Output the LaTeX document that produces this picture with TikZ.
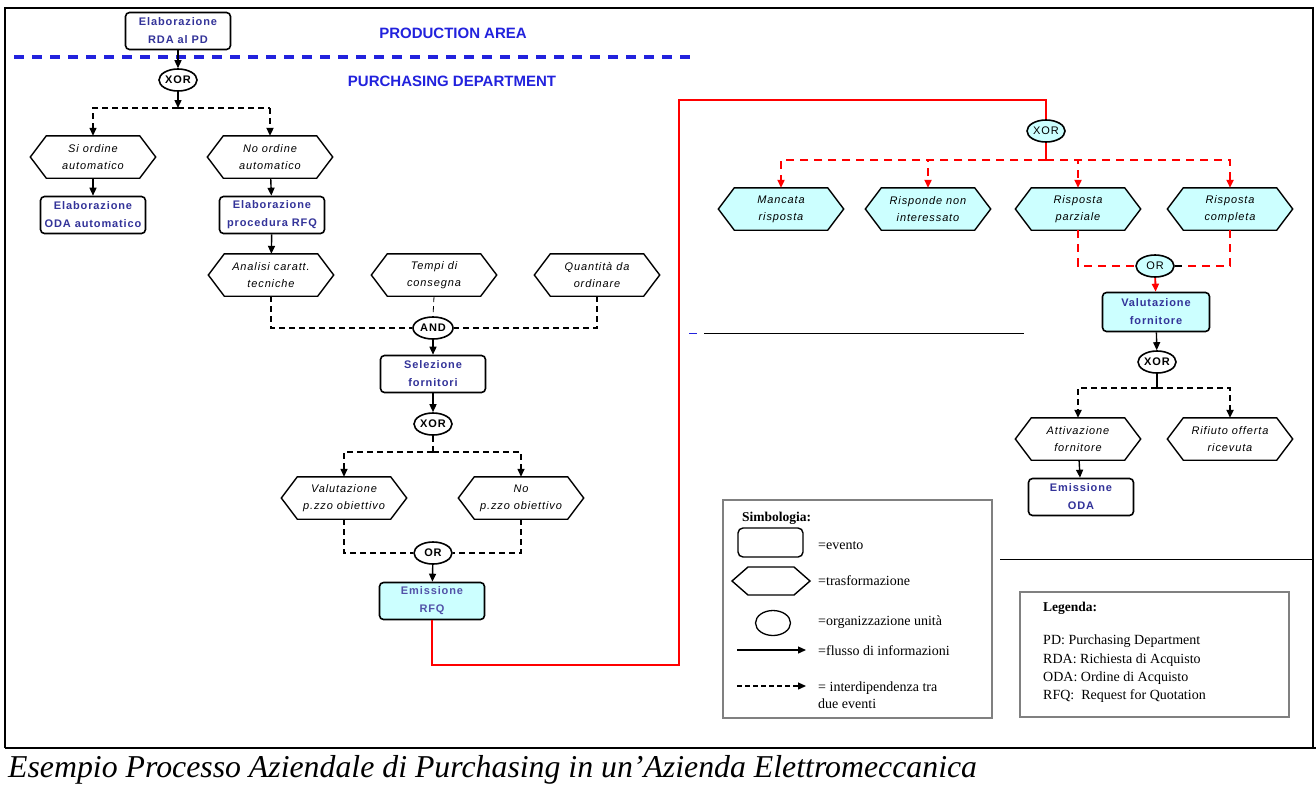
\documentclass[tikz,border=0pt]{standalone}
\usepackage{fontspec}
\setmainfont{Liberation Serif}
\setsansfont{Liberation Sans}
\newfontfamily\labelsans[LetterSpace=8]{Liberation Sans}
\usetikzlibrary{arrows.meta,backgrounds,shapes.geometric}

\definecolor{evblue}{HTML}{333399}
\definecolor{areablue}{HTML}{2222DD}
\definecolor{lightcyan}{HTML}{CCFFFF}
\definecolor{framegray}{HTML}{808080}

\tikzset{
  evento/.style={draw, line width=1.6pt, rounded corners=4pt,
    minimum width=105pt, minimum height=37pt, inner sep=1pt, align=center,
    text=evblue, font=\labelsans\bfseries\fontsize{11}{18}\selectfont},
  hexlbl/.style={minimum width=125pt, minimum height=42pt, inner sep=0pt,
    align=center, font=\labelsans\itshape\fontsize{11}{17}\selectfont},
  hexline/.style={line width=1.4pt},
  unita/.style={draw, ellipse, line width=1.6pt, minimum width=38pt,
    minimum height=22pt, inner sep=0pt,
    font=\labelsans\bfseries\fontsize{11}{12}\selectfont},
  tip/.style={-{Triangle[length=8pt,width=7pt]}},
  flow/.style={line width=1.4pt, tip},
  dep/.style={line width=1.4pt, dash pattern=on 6pt off 4pt},
  deparrow/.style={dep, tip},
  redflow/.style={red, line width=1.8pt},
  reddep/.style={red, line width=2.4pt, dash pattern=on 8pt off 6pt},
  areatitle/.style={text=areablue, font=\sffamily\bfseries\fontsize{15}{17}\selectfont},
  arealine/.style={areablue, line width=4pt, dash pattern=on 10pt off 8pt},
  legtext/.style={anchor=base west, inner sep=0pt, font=\fontsize{14}{16}\selectfont},
}

% transformation step: hexagon drawn around a named text node
\newcommand\hexnode[4][white]{%
  \node[hexlbl] (#2) at (#3) {#4};
  \begin{pgfonlayer}{background}
    \filldraw[hexline, fill=#1] ([xshift=16pt]#2.north west) -- ([xshift=-16pt]#2.north east)
      -- (#2.east) -- ([xshift=-16pt]#2.south east) -- ([xshift=16pt]#2.south west)
      -- (#2.west) -- cycle;
  \end{pgfonlayer}}

\begin{document}
\begin{tikzpicture}[x=1pt,y=-1pt]
\useasboundingbox (0,0) rectangle (1316,785);
\begin{pgfonlayer}{background}
  \fill[white] (0,0) rectangle (1316,785);
\end{pgfonlayer}

% outer frame and caption separator
\draw[line width=1.5pt] (5,748) -- (5,8) -- (1313,8) -- (1313,748);
\draw[line width=2pt] (5,748) -- (1316,748);

% area division
\coordinate (al) at (14,57);
\coordinate (ar) at (690,57);
\draw[arealine] (al) -- (ar);
\node[areatitle] (prod) at (453,33) {PRODUCTION AREA};
\node[areatitle] (purch) at (452,81) {PURCHASING DEPARTMENT};

% left branch
\node[evento] (rda) at (178,31) {Elaborazione\\RDA al PD};
\node[unita] (x1) at (178,80) {XOR};
\coordinate (s1) at (178,108);
\hexnode{si}{93,157}{Si ordine\\automatico}
\hexnode{no}{270,157}{No ordine\\automatico}
\node[evento] (odaA) at (93,215) {Elaborazione\\ODA automatico};
\node[evento] (rfqP) at (272,215) {Elaborazione\\procedura RFQ};
\hexnode{ana}{271,275}{Analisi caratt.\\tecniche}
\hexnode{tem}{434,275}{Tempi di\\consegna}
\hexnode{qua}{597,275}{Quantità da\\ordinare}
\node[unita, minimum width=40pt] (and) at (433,328) {AND};
\node[evento] (sel) at (433,374) {Selezione\\fornitori};
\node[unita] (x2) at (433,424) {XOR};
\coordinate (s2) at (433,452);
\hexnode{val}{344,498}{Valutazione\\p.zzo obiettivo}
\hexnode{nop}{521,498}{No\\p.zzo obiettivo}
\node[unita] (or1) at (433,553) {OR};
\node[evento, fill=lightcyan, text=evblue!85] (rfq) at (432,601) {Emissione\\RFQ};

\draw[flow] (rda) -- (x1);
\draw[flow] (x1) -- (s1);
\coordinate (s1r) at (no.north |- s1);
\draw[deparrow] (s1) -| (si.north);
\draw[dep] (s1) -- (s1r);
\draw[deparrow, line width=2.6pt] (s1r) -- (no.north);
\draw[flow] (si) -- (odaA);
\draw[flow] (no) -- (rfqP);
\draw[flow] (rfqP) -- (ana);
\draw[dep] (ana.south) |- (and.west);
\draw[dep, line width=0.8pt] (tem.south) -- (and.north);
\draw[dep] (qua.south) |- (and.east);
\draw[flow] (and) -- (sel);
\draw[flow] (sel) -- (x2);
\draw[dep] (x2) -- (s2);
\draw[deparrow] (s2) -| (val.north);
\draw[deparrow] (s2) -| (nop.north);
\draw[dep] (val.south) |- (or1.west);
\draw[dep] (nop.south) |- (or1.east);
\draw[flow] (or1) -- (rfq);

% right branch
\node[unita, fill=lightcyan, font=\labelsans\fontsize{11}{12}\selectfont] (x3) at (1046,131) {XOR};
\coordinate (s3) at (1046,160);
\hexnode[lightcyan]{man}{781,209}{Mancata\\risposta}
\hexnode[lightcyan]{nin}{928,209}{Risponde non\\interessato}
\hexnode[lightcyan]{par}{1078,209}{Risposta\\parziale}
\hexnode[lightcyan]{com}{1230,209}{Risposta\\completa}
\node[unita, fill=lightcyan, font=\labelsans\fontsize{11}{12}\selectfont] (or2) at (1155,266) {OR};
\node[evento, fill=lightcyan, minimum width=107pt, minimum height=39pt] (vfo) at (1156,312) {Valutazione\\fornitore};
\node[unita] (x4) at (1157,362) {XOR};
\coordinate (s4) at (1157,388);
\hexnode{att}{1078,439}{Attivazione\\fornitore}
\hexnode{rif}{1230,439}{Rifiuto offerta\\ricevuta}
\node[evento] (oda) at (1081,497) {Emissione\\ODA};

\coordinate (r1) at (679,665);
\coordinate (r2) at (679,100);
\draw[redflow] (rfq.south) |- (r1) -- (r2) -| (x3.north);
\draw[redflow] (x3) -- (s3);
\draw[reddep, tip] (s3) -| (man.north);
\draw[reddep, tip] (s3) -| (nin.north);
\draw[reddep, tip] (s3) -| (par.north);
\draw[reddep, tip] (s3) -| (com.north);
\draw[reddep, line width=2pt] (par.south) |- (or2.west);
\draw[reddep] (com.south) |- (or2.east);
\draw[line width=1.6pt] (or2.east) -- ++(7,0);
\draw[redflow, tip] (or2) -- (vfo);
\draw[flow] (vfo) -- (x4);
\draw[line width=2.6pt] (x4) -- (s4);
\draw[deparrow, line width=2.6pt] (s4) -| (att.north);
\draw[deparrow, line width=2.6pt] (s4) -| (rif.north);
\draw[flow] (att) -- (oda);

% row rules
\coordinate (ra) at (689,333);
\coordinate (rb) at (697,333);
\coordinate (rc) at (704,333);
\coordinate (rd) at (1024,333);
\draw[areablue, line width=1pt] (ra) -- (rb);
\draw[line width=1pt] (rc) -- (rd);
\coordinate (re) at (1000,559);
\coordinate (rf) at (1313,559);
\draw[line width=1pt] (re) -- (rf);

% symbols key
\node[draw=framegray, line width=1.5pt, minimum width=269pt, minimum height=218pt, inner sep=0pt] (simbox) at (857.5,609) {};
\node[legtext, font=\bfseries\fontsize{13.5}{15}\selectfont] (simt) at (742,521) {Simbologia:};
\node[draw, line width=1.4pt, rounded corners=5pt, minimum width=65pt, minimum height=29pt] (symev) at (770.5,542.5) {};
\filldraw[hexline, fill=white] (732,581) -- (748,567) -- (794,567) -- (810,581) -- (794,595) -- (748,595) -- cycle;
\node[draw, ellipse, line width=1.3pt, minimum width=35pt, minimum height=25pt] (symou) at (773,623) {};
\coordinate (fa) at (737,650);
\coordinate (fb) at (806,650);
\draw[line width=1.3pt, tip] (fa) -- (fb);
\coordinate (da) at (737,686);
\coordinate (db) at (806,686);
\draw[line width=1.3pt, dash pattern=on 5pt off 3pt, tip] (da) -- (db);
\node[legtext] (l1) at (818,549) {=evento};
\node[legtext] (l2) at (818,585) {=trasformazione};
\node[legtext] (l3) at (818,625) {=organizzazione unità};
\node[legtext] (l4) at (818,655) {=flusso di informazioni};
\node[legtext] (l5) at (818,691) {= interdipendenza tra};
\node[legtext] (l6) at (818,708) {due eventi};

% abbreviations key
\node[draw=framegray, line width=1.5pt, minimum width=269pt, minimum height=125pt, inner sep=0pt] (legbox) at (1154.5,654.5) {};
\node[legtext, font=\bfseries\fontsize{13.5}{15}\selectfont] (legt) at (1043,611) {Legenda:};
\node[legtext] (g1) at (1043,644) {PD: Purchasing Department};
\node[legtext] (g2) at (1043,663) {RDA: Richiesta di Acquisto};
\node[legtext] (g3) at (1043,681) {ODA: Ordine di Acquisto};
\node[legtext] (g4) at (1043,699) {RFQ:\ \ Request for Quotation};

% caption
\node[anchor=base west, inner sep=0pt, font=\itshape\fontsize{31.8}{32}\selectfont] (cap) at (8,777) {Esempio Processo Aziendale di Purchasing in un’Azienda Elettromeccanica};
\end{tikzpicture}
\end{document}
